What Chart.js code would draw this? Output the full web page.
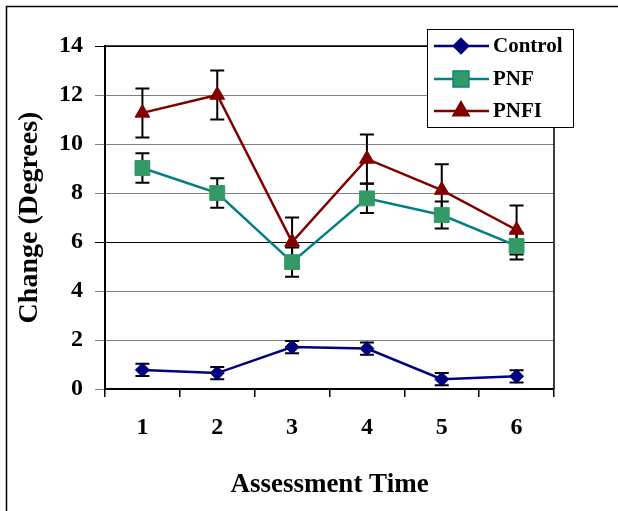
<!DOCTYPE html>
<html>
<head>
<meta charset="utf-8">
<script src="https://cdn.jsdelivr.net/npm/chart.js@4/dist/chart.umd.min.js"></script>
<style>
  body { margin: 0; background: #fff; }
  #wrap { width: 618px; height: 511px; }
</style>
</head>
<body>
<div id="wrap"><canvas id="myChart" width="618" height="511"></canvas></div>
<script>
// Data
const times = ['1', '2', '3', '4', '5', '6'];
const control = [0.78, 0.65, 1.71, 1.65, 0.40, 0.52];
const controlErr = [0.25, 0.25, 0.25, 0.25, 0.25, 0.25];
const pnf = [9.02, 8.0, 5.18, 7.78, 7.1, 5.84];
const pnfErr = [0.6, 0.6, 0.6, 0.6, 0.55, 0.55];
const pnfi = [11.27, 12.0, 6.0, 9.39, 8.12, 6.49];
const pnfiErr = [1.0, 1.0, 1.0, 1.0, 1.05, 1.0];
const yTicks = [0, 2, 4, 6, 8, 10, 12, 14];

const serif = '"Liberation Serif", "Times New Roman", serif';
Chart.defaults.font.family = serif;
Chart.defaults.color = '#000';

// Error bars, frame and plot border
const extras = {
    id: 'extras',
    beforeDraw(chart) {
        const c = chart.ctx;
        c.save();
        c.fillStyle = '#fff';
        c.fillRect(0, 0, chart.width, chart.height);
        c.strokeStyle = '#000';
        c.lineWidth = 1.5;
        c.strokeRect(6.5, 6.5, 800, 800);
        c.restore();
    },
    beforeDatasetsDraw(chart) {
        const c = chart.ctx;
        const a = chart.chartArea;
        c.save();
        c.strokeStyle = '#000';
        c.lineWidth = 1.5;
        c.beginPath();
        c.moveTo(a.left, a.top);
        c.lineTo(a.right, a.top);
        c.lineTo(a.right, a.bottom);
        c.stroke();

        const x = chart.scales.x, y = chart.scales.y;
        c.lineWidth = 2;
        chart.data.datasets.forEach(ds => {
            ds.data.forEach((v, i) => {
                const px = x.getPixelForValue(i);
                const top = y.getPixelForValue(v + ds.err[i]);
                const bot = y.getPixelForValue(v - ds.err[i]);
                c.beginPath();
                c.moveTo(px, top); c.lineTo(px, bot);
                c.moveTo(px - 7, top); c.lineTo(px + 7, top);
                c.moveTo(px - 7, bot); c.lineTo(px + 7, bot);
                c.stroke();
            });
        });
        c.restore();
    },
    afterDraw(chart) {
        // legend box
        const c = chart.ctx;
        c.save();
        c.fillStyle = '#fff';
        c.fillRect(427, 29, 146, 98);
        c.strokeStyle = '#000';
        c.lineWidth = 1;
        c.strokeRect(427.5, 29.5, 146, 98);
        const rows = [46, 79, 111];
        chart.data.datasets.forEach((ds, i) => {
            const yy = rows[i];
            c.strokeStyle = ds.borderColor;
            c.lineWidth = 2.5;
            c.beginPath();
            c.moveTo(434, yy); c.lineTo(489, yy);
            c.stroke();
            Chart.helpers.drawPoint(c, {
                pointStyle: ds.pointStyle,
                radius: ds.pointRadius,
                borderWidth: 1
            }, 461, yy);
            c.fillStyle = ds.pointBackgroundColor;
            c.strokeStyle = ds.pointBorderColor;
            c.fill();
            c.fillStyle = '#000';
            c.font = 'bold 21px ' + serif;
            c.textBaseline = 'middle';
            c.textAlign = 'left';
            c.fillText(ds.label, 493, yy + 1);
        });
        c.restore();
    }
};

function series(label, data, err, color, markerColor, style, r) {
    return {
        label, data, err,
        borderColor: color,
        borderWidth: 2.5,
        pointStyle: style,
        pointRadius: r,
        pointHoverRadius: r,
        pointBackgroundColor: markerColor,
        pointBorderColor: markerColor,
        pointBorderWidth: 1,
        tension: 0
    };
}

const ctx = document.getElementById('myChart');
const myChart = new Chart(ctx, {
    type: 'line',
    data: {
        labels: times,
        datasets: [
            series('Control', control, controlErr, '#000080', '#000080', 'rectRot', 7),
            series('PNF', pnf, pnfErr, '#008080', '#339966', 'rect', 10.5),
            series('PNFI', pnfi, pnfiErr, '#800000', '#800000', 'triangle', 8.5)
        ]
    },
    plugins: [extras],
    options: {
        responsive: false,
        animation: false,
        layout: { padding: { left: 0, top: 46, right: 64, bottom: 0 } },
        plugins: {
            legend: { display: false },
            tooltip: { enabled: false }
        },
        scales: {
            x: {
                offset: true,
                grid: { offset: true, drawOnChartArea: false, tickLength: 8, color: '#000', lineWidth: 1.5 },
                border: { color: '#000', width: 2 },
                ticks: { font: { size: 24, weight: 'bold' }, padding: 16, maxRotation: 0 },
                title: { display: true, text: 'Assessment Time', font: { size: 27, weight: 'bold' }, padding: { top: 0, bottom: 10 } },
                afterFit(s) { s.height = 122; }
            },
            y: {
                min: 0,
                max: 14,
                afterBuildTicks(s) { s.ticks = yTicks.map(v => ({ value: v })); },
                grid: {
                    tickLength: 10,
                    lineWidth: 1,
                    color: c => (c.tick && (c.tick.value === 14 || c.tick.value === 6)) ? '#000' : '#808080'
                },
                border: { color: '#000', width: 2 },
                ticks: { font: { size: 24, weight: 'bold' }, padding: 12 },
                title: { display: true, text: 'Change (Degrees)', font: { size: 28, weight: 'bold' }, padding: { top: 13, bottom: 0 } },
                afterFit(s) { s.width = 105; }
            }
        }
    }
});
</script>
</body>
</html>
